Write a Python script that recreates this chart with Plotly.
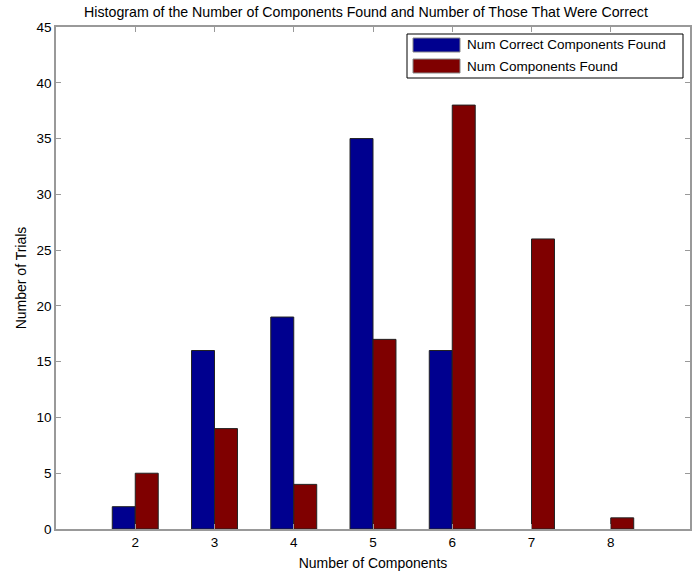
import plotly.graph_objects as go

categories = [2, 3, 4, 5, 6, 7, 8]
num_correct = [2, 16, 19, 35, 16, 0, 0]
num_found = [5, 9, 4, 17, 38, 26, 1]
y_ticks = [0, 5, 10, 15, 20, 25, 30, 35, 40, 45]
series_names = ["Num Correct Components Found", "Num Components Found"]
series_colors = ["#00008F", "#7F0000"]

W, H = 699, 571
L, R, T, B = 56, 9, 27, 42
PW, PH = W - L - R, H - T - B


def px(x):
    return (x - L) / PW


def py(y):
    return (H - B - y) / PH


fig = go.Figure()
for vals, name, col in zip([num_correct, num_found], series_names, series_colors):
    fig.add_trace(go.Bar(x=categories, y=vals, name=name, showlegend=False,
                         marker=dict(color=col,
                                     line=dict(color="#222222",
                                               width=[1 if v else 0 for v in vals]))))

font = "Liberation Sans, Arial, sans-serif"

# custom MATLAB-style legend (box, wide swatches, labels)
shapes = [dict(type="rect", xref="paper", yref="paper",
               x0=px(407), x1=px(683), y0=py(78), y1=py(34),
               line=dict(color="#000000", width=1), fillcolor="white", layer="above")]
annotations = []
for i, (name, col) in enumerate(zip(series_names, series_colors)):
    top = 38 + i * 21
    shapes.append(dict(type="rect", xref="paper", yref="paper",
                       x0=px(413), x1=px(460), y0=py(top + 14), y1=py(top),
                       line=dict(color="#888888", width=1), fillcolor=col, layer="above"))
    annotations.append(dict(text=name, xref="paper", yref="paper", x=px(465), y=py(top + 7),
                            xanchor="left", yanchor="middle", showarrow=False,
                            font=dict(size=13.5, color="#000000")))

fig.update_layout(
    width=W, height=H,
    paper_bgcolor="white", plot_bgcolor="white",
    barmode="group", bargap=0.42, bargroupgap=0,
    margin=dict(l=L, r=R, t=T, b=B),
    font=dict(family=font, size=13.5, color="#000000"),
    title=dict(text="Histogram of the Number of Components Found and Number of Those That Were Correct",
               x=px(366), xanchor="center", xref="paper", y=1 - 12 / H, yanchor="middle",
               font=dict(size=14.2), automargin=False),
    showlegend=False,
    shapes=shapes,
    annotations=annotations,
    xaxis=dict(range=[1, 9], tickvals=categories, ticks="inside", ticklen=5,
               showline=True, linecolor="#999999", mirror="ticks", linewidth=1.5,
               tickcolor="#999999", showgrid=False, zeroline=False, automargin=False,
               tickfont=dict(size=13.5),
               title=dict(text="Number of Components", standoff=10, font=dict(size=14))),
    yaxis=dict(range=[0, 45], tickvals=y_ticks, ticks="inside", ticklen=5,
               showline=True, linecolor="#999999", mirror="ticks", linewidth=1.5,
               tickcolor="#999999", showgrid=False, zeroline=False, automargin=False,
               tickfont=dict(size=13.5),
               title=dict(text="Number of Trials", standoff=7, font=dict(size=14))),
)

fig.write_html("out.html", config={"displayModeBar": False},
               post_script="document.body.style.margin='0';document.body.style.overflow='hidden';")
